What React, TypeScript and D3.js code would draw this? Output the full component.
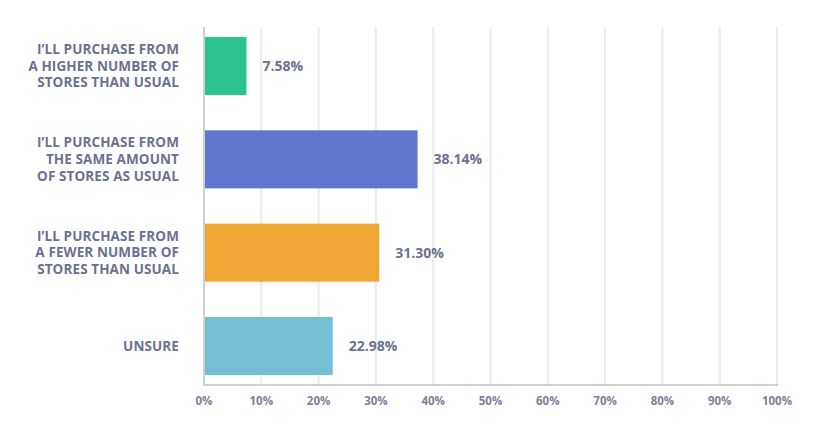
import { useEffect, useRef } from 'react';
import * as d3 from 'd3';

const categories = [
  ['I’LL PURCHASE FROM', 'A HIGHER NUMBER OF', 'STORES THAN USUAL'],
  ['I’LL PURCHASE FROM', 'THE SAME AMOUNT', 'OF STORES AS USUAL'],
  ['I’LL PURCHASE FROM', 'A FEWER NUMBER OF', 'STORES THAN USUAL'],
  ['UNSURE'],
];
const values = [7.58, 38.14, 31.3, 22.98];
const colors = ['#2cc38f', '#5f78cd', '#f0a634', '#75bfd6'];
const ticks = [0, 10, 20, 30, 40, 50, 60, 70, 80, 90, 100];

export default function App() {
  const svgRef = useRef<SVGSVGElement>(null);

  useEffect(() => {
    if (!svgRef.current) return;
    const svg = d3.select(svgRef.current);
    svg.selectAll('*').remove();

    const width = 824;
    const height = 426;
    const left = 204;
    const right = 777;
    const top = 27;
    const bottom = 385;

    // grid scale and (slightly narrower) bar scale, as in the source chart
    const x = d3.scaleLinear().domain([0, 100]).range([left, right]);
    const xBar = d3.scaleLinear().domain([0, 100]).range([left, left + 560]);
    const y = d3
      .scaleBand<number>()
      .domain(values.map((_, i) => i))
      .range([top, bottom])
      .paddingInner(0.378)
      .paddingOuter(0.107);

    svg.attr('width', width).attr('height', height);
    const font = '"Open Sans", Lato, sans-serif';
    const textColor = '#6c7190';

    // Gridlines
    svg
      .append('g')
      .selectAll('line')
      .data(ticks.slice(1))
      .join('line')
      .attr('x1', (d) => x(d))
      .attr('x2', (d) => x(d))
      .attr('y1', top)
      .attr('y2', bottom)
      .attr('stroke', '#ebebeb')
      .attr('stroke-width', 2);

    // Axis lines
    svg
      .append('line')
      .attr('x1', left)
      .attr('x2', left)
      .attr('y1', top)
      .attr('y2', bottom + 1)
      .attr('stroke', '#d0d0d0')
      .attr('stroke-width', 2);
    svg
      .append('line')
      .attr('x1', left - 1)
      .attr('x2', right + 1)
      .attr('y1', bottom)
      .attr('y2', bottom)
      .attr('stroke', '#d0d0d0')
      .attr('stroke-width', 2);

    // Bars
    svg
      .append('g')
      .selectAll('rect')
      .data(values)
      .join('rect')
      .attr('x', left + 1)
      .attr('y', (_, i) => y(i)!)
      .attr('width', (d) => xBar(d) - left - 1)
      .attr('height', y.bandwidth())
      .attr('fill', (_, i) => colors[i]);

    // Value labels
    svg
      .append('g')
      .selectAll('text')
      .data(values)
      .join('text')
      .attr('x', (d) => xBar(d) + 16)
      .attr('y', (_, i) => y(i)! + y.bandwidth() / 2)
      .attr('dy', '0.35em')
      .attr('font-family', font)
      .attr('font-weight', 'bold')
      .attr('font-size', '14px')
      .attr('fill', textColor)
      .text((d) => `${d.toFixed(2)}%`);

    // Category labels
    const lineH = 16.7;
    categories.forEach((lines, i) => {
      const cy = y(i)! + y.bandwidth() / 2;
      const t = svg
        .append('text')
        .attr('text-anchor', 'end')
        .attr('font-family', font)
        .attr('font-weight', 'bold')
        .attr('font-size', '13.5px')
        .attr('letter-spacing', '0.1px')
        .attr('fill', textColor);
      lines.forEach((ln, j) => {
        t.append('tspan')
          .attr('x', 179)
          .attr('y', cy + (j - (lines.length - 1) / 2) * lineH)
          .attr('dy', '0.35em')
          .text(ln);
      });
    });

    // Tick labels
    svg
      .append('g')
      .selectAll('text')
      .data(ticks)
      .join('text')
      .attr('x', (d) => x(d))
      .attr('y', 401)
      .attr('dy', '0.35em')
      .attr('text-anchor', 'middle')
      .attr('font-family', font)
      .attr('font-weight', 'bold')
      .attr('font-size', '11.5px')
      .attr('fill', '#7d819c')
      .text((d) => `${d}%`);
  }, []);

  return (
    <svg
      ref={svgRef}
      style={{ position: 'absolute', left: 0, top: 0, display: 'block' }}
    />
  );
}
